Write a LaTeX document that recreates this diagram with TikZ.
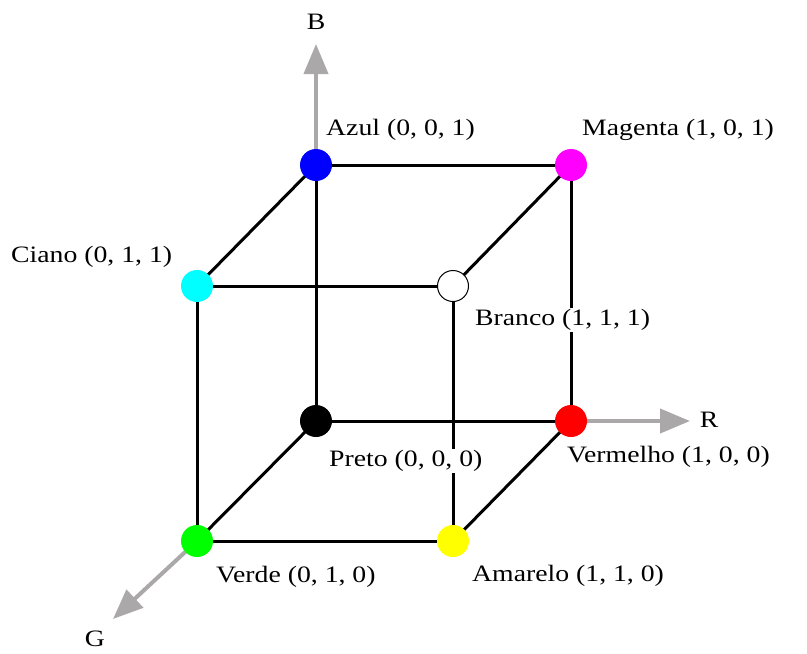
\documentclass[tikz,border=0pt]{standalone}
\usepackage{fontspec}
\setmainfont{Liberation Serif}[FakeStretch=1.18]
\usetikzlibrary{arrows.meta}
\begin{document}
\begin{tikzpicture}[x=1pt,y=-1pt,
  edge/.style={line width=3pt,black},
  axis/.style={line width=4pt,color=axisgray,-{Triangle[length=30pt,width=24pt]}},
  vtx/.style={circle,minimum size=32pt,inner sep=0pt},
  lab/.style={font=\fontsize{23.5}{26}\selectfont,inner sep=1pt,fill=white},
  axlab/.style={font=\fontsize{23.5}{26}\selectfont,inner sep=1pt}]
\definecolor{axisgray}{RGB}{170,168,168}
\useasboundingbox (0,0) rectangle (807,654);
% vertices coordinates
\coordinate (p) at (316,421);
\coordinate (r) at (571,421);
\coordinate (b) at (316,165);
\coordinate (m) at (571,165);
\coordinate (c) at (197,286);
\coordinate (w) at (453,286);
\coordinate (g) at (197,541);
\coordinate (y) at (453,541);
\coordinate (bt) at (316,44);
\coordinate (rt) at (690,421);
\coordinate (gt) at (113,619);
% axes
\draw[axis] (b) -- (bt);
\draw[axis] (r) -- (rt);
\draw[axis] (g) -- (gt);
% edges
\draw[edge] (b) -- (m) -- (r) -- (p) -- cycle;
\draw[edge] (c) -- (w) -- (y) -- (g) -- cycle;
\draw[edge] (b) -- (c);
\draw[edge] (m) -- (w);
\draw[edge] (r) -- (y);
\draw[edge] (p) -- (g);
% labels
\node[axlab] (lB) at (316,22) {B};
\node[axlab] (lR) at (709,420) {R};
\node[axlab] (lG) at (95,639) {G};
\node[lab,anchor=west] (lAzul) at (325,130) {Azul (0, 0, 1)};
\node[lab,anchor=west] (lMag) at (581,130) {Magenta (1, 0, 1)};
\node[lab,anchor=west] (lCia) at (10,257) {Ciano (0, 1, 1)};
\node[lab,anchor=west] (lBra) at (474,320) {Branco (1, 1, 1)};
\node[lab,anchor=west] (lPre) at (328,461) {Preto (0, 0, 0)};
\node[lab,anchor=west] (lVer) at (566,457) {Vermelho (1, 0, 0)};
\node[lab,anchor=west] (lVd) at (215,577) {Verde (0, 1, 0)};
\node[lab,anchor=west] (lAm) at (471,576) {Amarelo (1, 1, 0)};
% vertices
\node[vtx,fill={rgb,255:red,0;green,0;blue,255}] (nb) at (b) {};
\node[vtx,fill={rgb,255:red,255;green,0;blue,255}] (nm) at (m) {};
\node[vtx,fill={rgb,255:red,0;green,255;blue,255}] (nc) at (c) {};
\node[vtx,fill=white,draw=black,line width=1pt,minimum size=31pt] (nw) at (w) {};
\node[vtx,fill=black] (np) at (p) {};
\node[vtx,fill={rgb,255:red,255;green,0;blue,0}] (nr) at (r) {};
\node[vtx,fill={rgb,255:red,0;green,255;blue,0}] (ng) at (g) {};
\node[vtx,fill={rgb,255:red,255;green,255;blue,0}] (ny) at (y) {};
\end{tikzpicture}
\end{document}
